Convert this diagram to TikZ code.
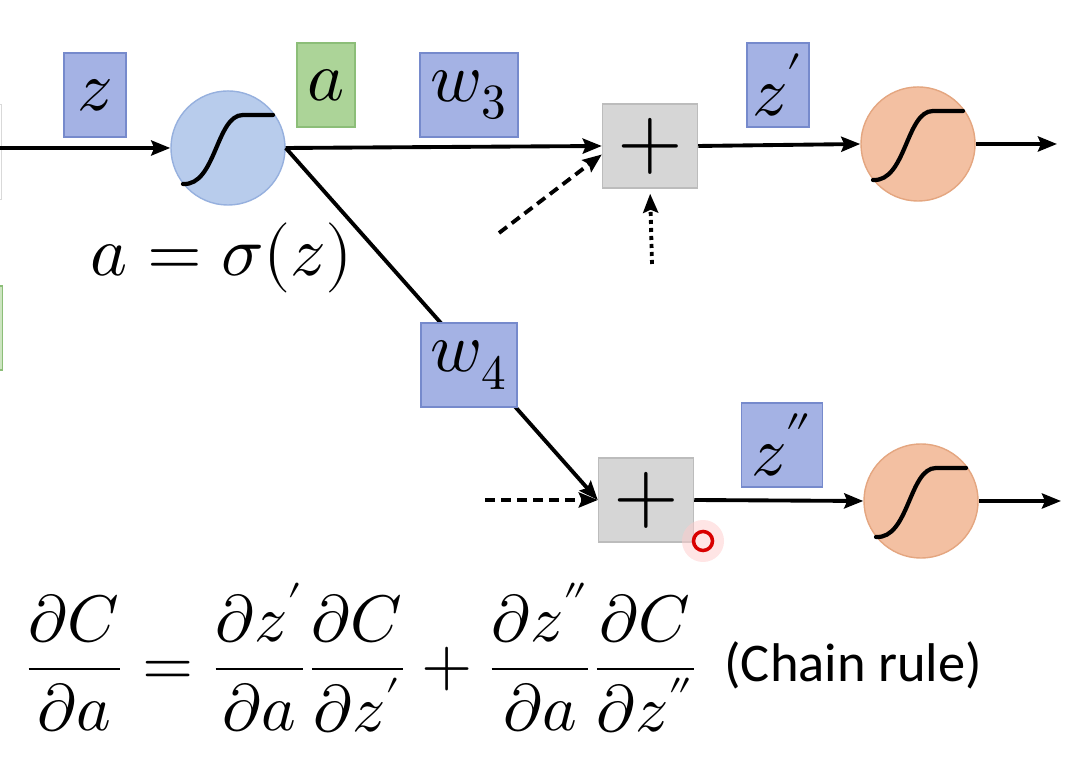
\documentclass[tikz,border=0pt]{standalone}
\usepackage{fontspec}
\usepackage{unicode-math}
\setmathfont{Latin Modern Math}
\newfontfamily\calibri{Carlito}
\usetikzlibrary{arrows.meta,positioning}

\definecolor{lblblue}{RGB}{164,178,228}
\definecolor{lblblueln}{RGB}{118,138,204}
\definecolor{lblgreen}{RGB}{172,212,152}
\definecolor{lblgreenln}{RGB}{140,190,120}
\definecolor{addgray}{RGB}{214,214,214}
\definecolor{addgrayln}{RGB}{188,188,188}
\definecolor{actblue}{RGB}{184,204,236}
\definecolor{actblueln}{RGB}{150,176,222}
\definecolor{actorange}{RGB}{243,192,162}
\definecolor{actorangeln}{RGB}{228,166,128}

\begin{document}
\begin{tikzpicture}[
  x=0.01cm, y=-0.01cm,
  lbl/.style={draw=lblblueln, fill=lblblue, minimum width=6.2mm, minimum height=8.4mm, inner sep=0pt, font=\fontsize{20}{24}\selectfont},
  lblg/.style={lbl, draw=lblgreenln, fill=lblgreen},
  adder/.style={draw=addgrayln, fill=addgray, minimum width=9.5mm, minimum height=8.4mm, inner sep=0pt, font=\fontsize{24}{28}\selectfont},
  neuron/.style={circle, draw=actblueln, fill=actblue, minimum size=11.4mm, inner sep=0pt},
  neuronout/.style={neuron, draw=actorangeln, fill=actorange},
  arr/.style={-{Stealth[length=1.9mm, width=1.5mm, inset=0.3mm]}, line width=1.1pt},
  dsh/.style={arr, dash pattern=on 1mm off 0.6mm},
  dot/.style={arr, dash pattern=on 0.4mm off 0.4mm},
  scurve/.pic={\draw[line width=1.2pt, line cap=round] (-45,36) .. controls (-12,38) and (-12,-33) .. (15,-33) -- (45,-33);}
]
\useasboundingbox (0,0) rectangle (1080,762);

% cut-off boxes at the left edge
\node[draw=gray!30, minimum width=6mm, minimum height=9.5mm, anchor=east] (cutL) at (2,152) {};
\node[lblg, fill=lblgreen!60, anchor=east] (cutG) at (3,328) {};

% neurons and adders
\node[neuron] (sig) at (228,148) {};
\pic at (sig.center) {scurve};
\node[adder] (add1) at (650,146) {$+$};
\node[adder] (add2) at (646,500) {$+$};
\node[neuronout] (out1) at (918,144) {};
\pic at (out1.center) {scurve};
\node[neuronout] (out2) at (921,501) {};
\pic at (out2.center) {scurve};

\coordinate (in) at (-5,148);
\coordinate (o1) at (1057,144);
\coordinate (o2) at (1061,501);
\coordinate (b1) at (499,233);
\coordinate (b2) at (652,264);
\coordinate (b3) at (485,500);

% connectors
\draw[arr] (in) -- (sig.west);
\draw[arr] (sig.east) -- (add1.west);
\draw[arr] (sig.east) -- (add2.west);
\draw[dsh] (b1) -- (add1.190);
\draw[dot, shorten >=0.5mm] (b2) -- (add1.south);
\draw[dsh] (b3) -- (add2.west);
\draw[arr] (add1.east) -- (out1.west);
\draw[arr] (add2.east) -- (out2.west);
\draw[arr] (out1.east) -- (o1);
\draw[arr] (out2.east) -- (o2);

% labels
\node[lbl] (lz) at (95,95) {$z$};
\node[lblg, minimum width=5.8mm] (la) at (326,85) {$a$};
\node[lbl, minimum width=9.8mm] (lw3) at (469,95) {$w_3$};
\node[lbl] (lz1) at (778,85) {$z'$};
\node[lbl, minimum width=9.6mm] (lw4) at (469,365) {$w_4$};
\node[lbl, minimum width=8.1mm] (lz2) at (782,445) {$z''$};
\node[font=\fontsize{20}{24}\selectfont] (aeq) at (222,258) {$a=\sigma(z)$};

% chain rule
\node[anchor=west, font=\fontsize{18.7}{23}\selectfont] (rule) at (12,658)
  {$\displaystyle\frac{\partial C}{\partial a}=\frac{\partial z'}{\partial a}\frac{\partial C}{\partial z'}+\frac{\partial z''}{\partial a}\frac{\partial C}{\partial z''}$};
\node[anchor=west, font=\calibri\fontsize{15.5}{18}\selectfont] (chain) at (712,665) {(Chain rule)};

% pointer
\node[circle, fill=red!20, opacity=0.5, minimum size=4.2mm, inner sep=0pt] (glow) at (703,541) {};
\node[circle, draw=red!85!black, line width=1pt, fill=red!10, minimum size=1.9mm, inner sep=0pt] (pointer) at (703,541) {};
\end{tikzpicture}
\end{document}
